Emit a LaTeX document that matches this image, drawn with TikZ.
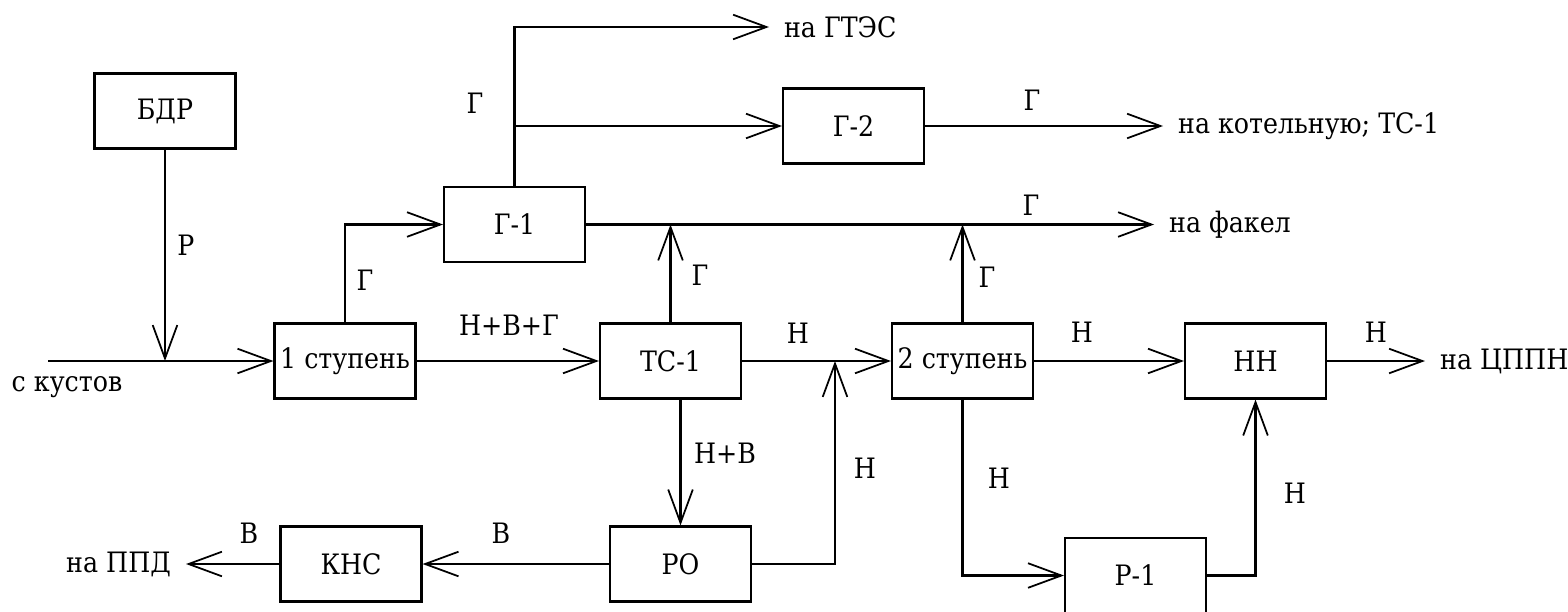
\documentclass[tikz,border=0pt]{standalone}
\usepackage{fontspec}
\setmainfont{DejaVu Serif Condensed}
\usetikzlibrary{arrows.meta,positioning,calc}

\tikzset{
  unit/.style={draw, minimum width=1.41cm, minimum height=0.75cm, inner sep=1pt},
  dest/.style={inner xsep=4pt, inner ysep=1pt},
  flow/.style={-{Straight Barb[length=9.5pt,width=7pt,line width=0.5pt]}},
}

\begin{document}
\begin{tikzpicture}[line width=0.6pt, font=\fontsize{8}{9.5}\selectfont]
\useasboundingbox (0,0) rectangle (15.68,6.11);
% apparatus
\node[unit] (bdr) at (1.65,5.00) {БДР};
\node[unit] (g1)  at (5.145,3.865) {Г-1};
\node[unit] (g2)  at (8.535,4.85) {Г-2};
\node[unit] (st1) at (3.45,2.5) {1 ступень};
\node[unit] (tc1) at (6.705,2.5) {ТС-1};
\node[unit] (st2) at (9.625,2.5) {2 ступень};
\node[unit] (nn)  at (12.555,2.5) {НН};
\node[unit] (ro)  at (6.805,0.47) {РО};
\node[unit] (kns) at (3.51,0.47) {КНС};
\node[unit] (r1)  at (11.355,0.355) {Р-1};
% inlets and outlets
\node (src) at (0.67,2.24) {с кустов};
\coordinate (inlet) at (0.48,2.5);
\node[dest,anchor=west] (gtes) at (7.69,5.84) {на ГТЭС};
\node[dest,anchor=west] (kot) at (11.63,4.85) {на котельную; ТС-1};
\node[dest,anchor=west] (fak) at (11.54,3.865) {на факел};
\node[dest,anchor=west] (cppn) at (14.25,2.5) {на ЦППН};
\node[dest,anchor=east] (ppd) at (1.86,0.47) {на ППД};
\coordinate (mixN) at (8.35,2.5);
\coordinate (brG) at (g1.north |- g2.west);
% flows
\draw[flow] (bdr.south) -- (bdr.south |- inlet);
\draw[flow] (inlet) -- (st1.west);
\draw[flow] (st1.north) |- (g1.west);
\draw[flow] (st1.east) -- (tc1.west);
\draw[flow] (g1.north) |- (gtes.west);
\draw[flow] (brG) -- (g2.west);
\draw[flow] (g2.east) -- (kot.west);
\draw[flow] (g1.east) -- (fak.west);
\draw[flow] (tc1.north) -- (tc1.north |- g1.east);
\draw[flow] (st2.north) -- (st2.north |- g1.east);
\draw[flow] (tc1.east) -- (st2.west);
\draw[flow] (ro.north |- tc1.south) -- (ro.north);
\draw[flow] (ro.east) -| (mixN);
\draw[flow] (ro.west) -- (kns.east);
\draw[flow] (kns.west) -- (ppd.east);
\draw[flow] (st2.east) -- (nn.west);
\draw[flow] (nn.east) -- (cppn.west);
\draw[flow] (st2.south) |- (r1.west);
\draw[flow] (r1.east) -| (nn.south);
% stream labels
\node (lP)   at (1.86,3.66) {Р};
\node (lG1)  at (3.65,3.31) {Г};
\node (lNVG) at (5.09,2.86) {Н+В+Г};
\node (lG2)  at (4.75,5.08) {Г};
\node (lG3)  at (10.32,5.11) {Г};
\node (lG4)  at (10.31,4.06) {Г};
\node (lG5)  at (7.00,3.36) {Г};
\node (lG6)  at (9.87,3.34) {Г};
\node (lN1)  at (7.98,2.78) {Н};
\node (lN2)  at (8.65,1.43) {Н};
\node (lNV)  at (7.25,1.58) {Н+В};
\node (lV1)  at (5.01,0.78) {В};
\node (lV2)  at (2.49,0.78) {В};
\node (lN3)  at (10.82,2.79) {Н};
\node (lN4)  at (13.76,2.79) {Н};
\node (lN5)  at (9.99,1.33) {Н};
\node (lN6)  at (12.95,1.18) {Н};
\end{tikzpicture}
\end{document}
